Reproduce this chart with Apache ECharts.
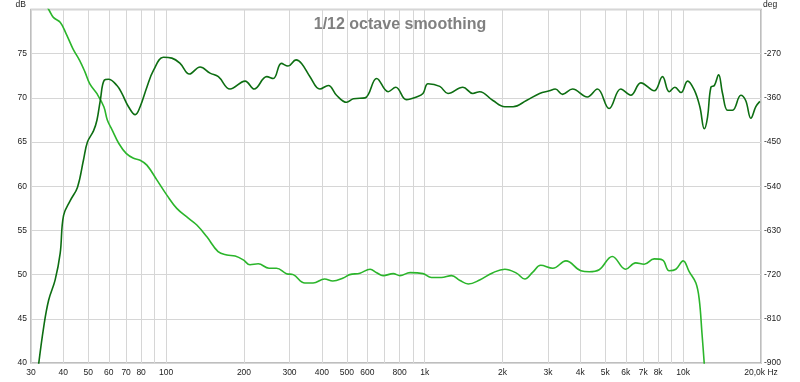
<!DOCTYPE html>
<html>
<head>
<meta charset="utf-8">
<script src="https://cdn.jsdelivr.net/npm/echarts@6/dist/echarts.min.js"></script>
<style>
  html, body { margin: 0; padding: 0; background: #fff; }
  #chart1 { width: 800px; height: 382px; }
</style>
</head>
<body>
<div id="chart1"></div>
<script>
// SPL (dB)
var splFreq = [32.0, 33.6, 35.1, 37.2, 38.9, 40.1, 42.6, 45.4, 47.9, 49.6, 52.4, 54.0, 55.6, 57.6, 59.8,
    64.5, 67.4, 71.5, 75.9, 79.3, 84.2, 89.3, 97.6, 105.2, 113.2, 123, 135.3, 147.8, 159.2, 176.6,
    202, 219, 245, 259.7, 279, 296, 318, 334, 360, 393, 424, 456, 499, 530, 588, 652, 722, 773,
    850, 930, 985, 1030, 1144, 1231, 1405, 1536, 1632, 1837, 2042, 2198, 2475, 2783, 3036, 3200,
    3415, 3733, 4258, 4658, 5170, 5735, 6271, 6859, 7724, 8317, 8827, 9290, 9808, 10400, 11035,
    11600, 12070, 12420, 12800, 13200, 13710, 14200, 14850, 15520, 16710, 17450, 18270, 19100, 19800];
var splDb = [39.5, 44.1, 47.1, 49.4, 52.4, 56.7, 58.4, 59.9, 63.0, 65.0, 66.3, 67.5, 69.7, 72.0, 72.1,
    71.4, 70.5, 69.0, 68.1, 69.0, 71.2, 73.1, 74.6, 74.5, 73.9, 72.7, 73.5, 72.8, 72.4, 71.0,
    71.9, 71.0, 72.4, 72.2, 73.9, 73.6, 74.3, 73.9, 72.4, 71.0, 71.4, 70.3, 69.5, 69.9, 70.0, 72.2, 70.7, 71.2,
    69.8, 70.1, 70.5, 71.6, 71.3, 70.5, 71.2, 70.5, 70.7, 69.7, 69.0, 69.0, 69.7, 70.5, 70.8, 71.0,
    70.4, 71.0, 70.1, 71.0, 68.8, 71.0, 70.3, 71.7, 70.8, 72.4, 70.7, 71.2, 70.6, 71.9, 70.9,
    69.0, 66.5, 67.8, 71.2, 71.4, 72.6, 70.5, 68.6, 68.6, 70.3, 69.7, 67.7, 69.0, 69.6];

// phase (deg)
var phaseFreq = [34.0, 35.3, 36.6, 38.9, 41.0, 43.6, 46.3, 48.5, 50.6, 53.9, 57.4, 59.2, 61.9, 65.6,
    70.0, 74.8, 79.3, 84.2, 92.0, 100.6, 109.9, 121.8, 131.4, 143.7, 158.8, 171.7, 184.9, 198.9,
    211, 227, 250, 267, 292, 310, 344, 370, 410, 441, 484, 513, 562, 615, 652, 691, 756, 802, 878,
    985, 1062, 1160, 1270, 1370, 1474, 1632, 1837, 2042, 2265, 2440, 2620, 2810, 3130, 3520, 4020,
    4330, 4730, 5320, 5990, 6550, 7060, 7724, 8317, 8827, 9370, 10000, 10550, 11200, 11540, 11820,
    12070, 12150];
var phaseDeg = [-168, -182, -196, -206, -229, -260, -284, -307, -331, -351, -378, -405, -426, -453,
    -473, -483, -487, -497, -527, -558, -585, -605, -619, -643, -673, -680, -682, -690,
    -700, -698, -707, -707, -718, -720, -737, -737, -729, -733, -727, -720, -717, -709, -716, -722, -718, -722, -716,
    -718, -726, -726, -722, -732, -739, -731, -716, -709, -717, -729, -715, -701, -707, -692, -712,
    -714, -710, -683, -709, -696, -699, -688, -690, -712, -709, -692, -714, -737, -771, -839,
    -903, -930];

var xGrid = [30, 40, 50, 60, 70, 80, 90, 100, 200, 300, 400, 500, 600, 700, 800, 900, 1000,
    2000, 3000, 4000, 5000, 6000, 7000, 8000, 9000, 10000, 20000];
var xLabels = [30, 40, 50, 60, 70, 80, 100, 200, 300, 400, 500, 600, 800, 1000,
    2000, 3000, 4000, 5000, 6000, 7000, 8000, 10000, 20000];

function zip(a, b) {
    return a.map(function (v, i) { return [v, b[i]]; });
}

var myChart1 = echarts.init(document.getElementById('chart1'));
var labelFont = { fontFamily: 'Liberation Sans', fontSize: 8.5, color: '#222' };

var option = {
    animation: false,
    title: {
        text: '1/12 octave smoothing',
        left: 'center',
        top: 12,
        textStyle: { fontFamily: 'Liberation Sans', fontSize: 16, fontWeight: 'bold', color: '#808080' }
    },
    grid: {
        left: 31,
        right: 39,
        top: 9,
        bottom: 19,
        show: true,
        borderColor: '#a9a9a9',
        borderWidth: 1.5
    },
    xAxis: {
        type: 'log',
        logBase: 10,
        min: 30,
        max: 20000,
        axisLine: { show: false },
        axisTick: { show: false, customValues: xGrid },
        splitLine: { show: true, lineStyle: { color: '#d6d6d6', width: 1 } },
        axisLabel: Object.assign({
            customValues: xLabels,
            margin: 5,
            formatter: function (v) {
                if (v >= 20000) return '20,0k Hz';
                if (v >= 1000) return (v / 1000) + 'k';
                return String(v);
            }
        }, labelFont)
    },
    yAxis: [
        {
            type: 'value',
            min: 40,
            max: 80,
            interval: 5,
            name: 'dB',
            nameLocation: 'end',
            nameGap: 5,
            nameTextStyle: Object.assign({ align: 'right', verticalAlign: 'middle', padding: [0, 5, 0, 0] }, labelFont),
            axisLine: { show: false },
            axisTick: { show: false },
            splitLine: { show: true, lineStyle: { color: '#d6d6d6', width: 1 } },
            axisLabel: Object.assign({
                margin: 4,
                formatter: function (v) { return v >= 80 ? '' : String(v); }
            }, labelFont)
        },
        {
            type: 'value',
            min: -900,
            max: -180,
            interval: 90,
            name: 'deg',
            nameLocation: 'end',
            nameGap: 5,
            nameTextStyle: Object.assign({ align: 'left', verticalAlign: 'middle', padding: [0, 0, 0, 2] }, labelFont),
            axisLine: { show: false },
            axisTick: { show: false },
            splitLine: { show: false },
            axisLabel: Object.assign({
                margin: 3,
                formatter: function (v) { return v >= -180 ? '' : String(v); }
            }, labelFont)
        }
    ],
    series: [
        {
            name: 'SPL',
            type: 'line',
            yAxisIndex: 0,
            data: zip(splFreq, splDb),
            smooth: 0.4,
            showSymbol: false,
            clip: true,
            lineStyle: { color: '#0d6e12', width: 1.6 },
            itemStyle: { color: '#0d6e12' },
            z: 3
        },
        {
            name: 'Phase',
            type: 'line',
            yAxisIndex: 1,
            data: zip(phaseFreq, phaseDeg),
            smooth: 0.4,
            showSymbol: false,
            clip: true,
            lineStyle: { color: '#2bb52b', width: 1.6 },
            itemStyle: { color: '#2bb52b' },
            z: 2
        }
    ]
};
myChart1.setOption(option);
</script>
</body>
</html>
